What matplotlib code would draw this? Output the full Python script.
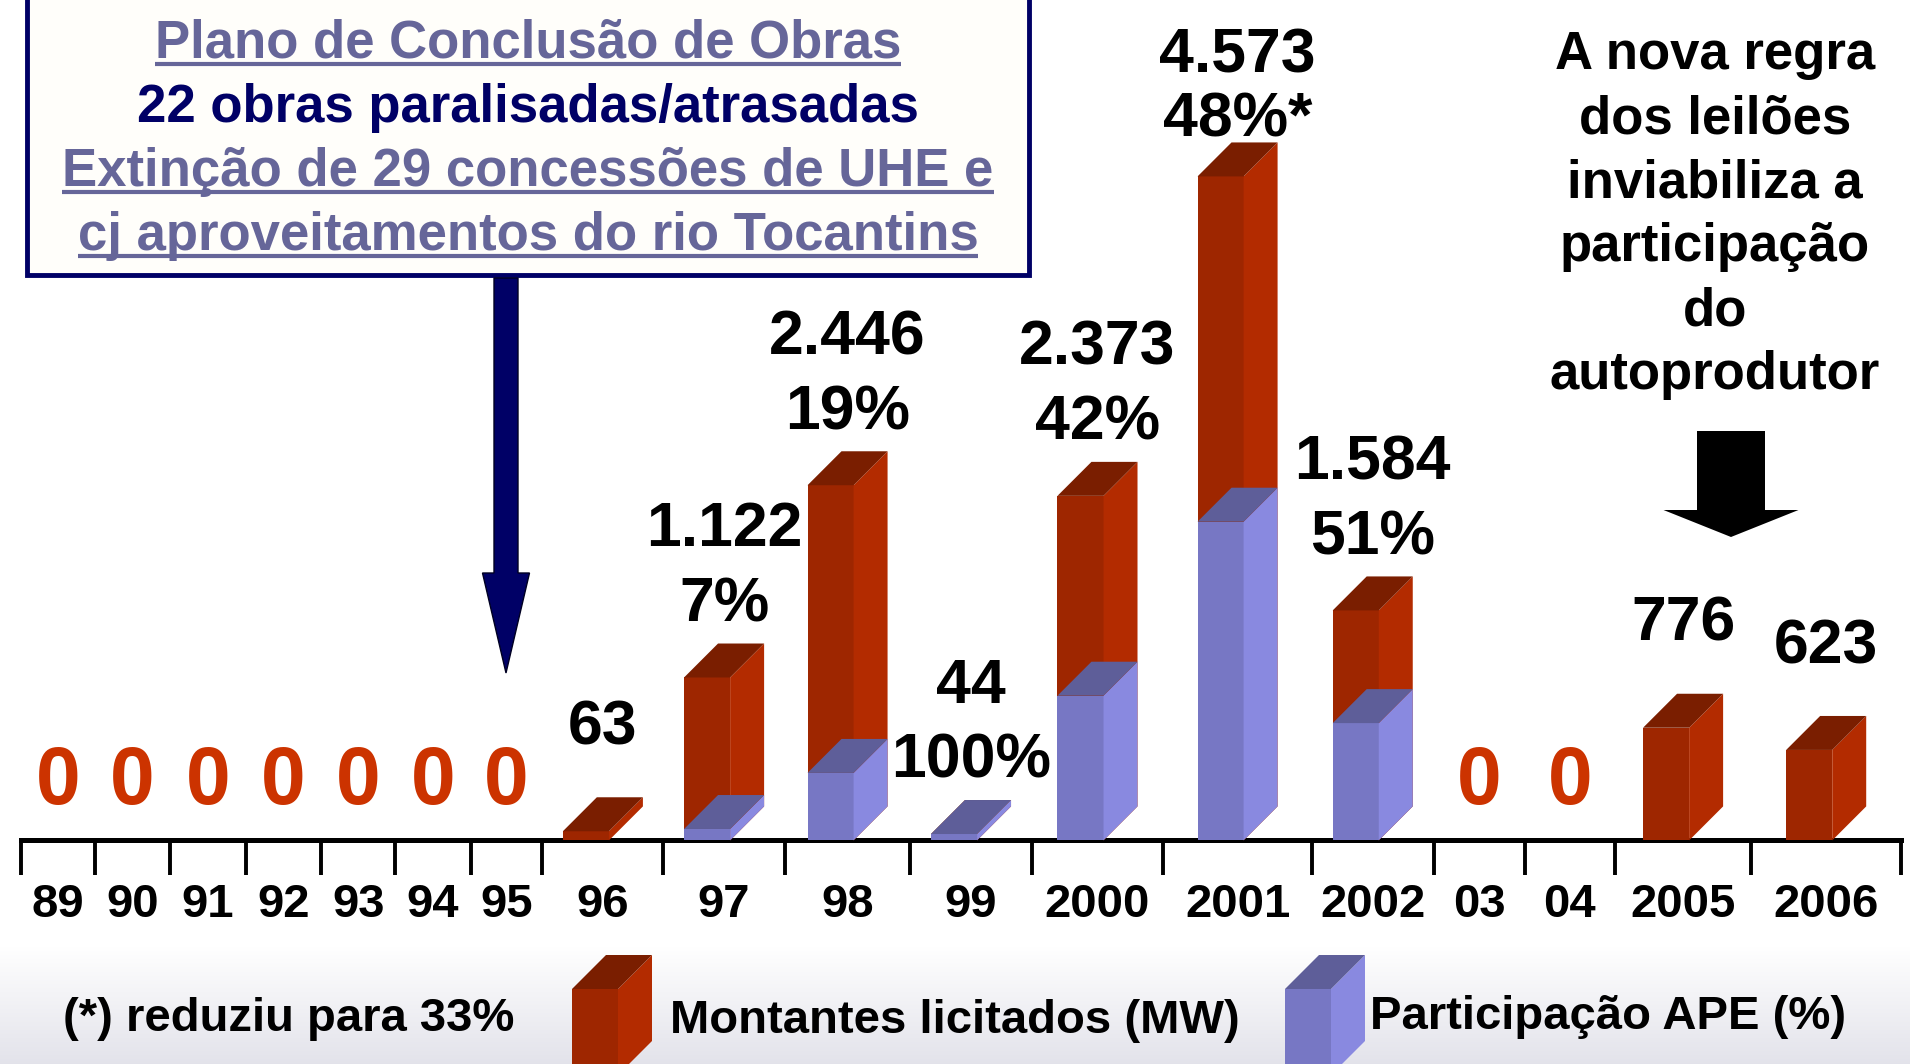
import numpy as np
import matplotlib
matplotlib.use('Agg')
import matplotlib.pyplot as plt
from matplotlib.patches import Polygon, Rectangle, FancyArrow

plt.rcParams['font.family'] = ['Liberation Sans', 'DejaVu Sans']
plt.rcParams['font.weight'] = 'bold'

# dados
years = ['89', '90', '91', '92', '93', '94', '95', '96', '97', '98', '99',
         '2000', '2001', '2002', '03', '04', '2005', '2006']
mw = [0, 0, 0, 0, 0, 0, 0, 63, 1122, 2446, 44, 2373, 4573, 1584, 0, 0, 776, 623]
ape_pct = [0, 0, 0, 0, 0, 0, 0, 0, 7, 19, 100, 42, 48, 51, 0, 0, 0, 0]
footnote_year = '2001'
footnote = '(*) reduziu para 33%'
legend_mw = 'Montantes licitados (MW)'
legend_ape = 'Participação APE (%)'
box_lines = ['Plano de Conclusão de Obras',
             '22 obras paralisadas/atrasadas',
             'Extinção de 29 concessões de UHE e',
             'cj aproveitamentos do rio Tocantins']
right_lines = ['A nova regra', 'dos leilões', 'inviabiliza a',
               'participação', 'do', 'autoprodutor']

# layout (largura de cada coluna do eixo, coluna estreita = 1)
slot_w = [0.98, 1, 1, 1, 0.98, 1, 0.95,
          1.6, 1.61, 1.66, 1.61, 1.74, 1.97, 1.61, 1.21, 1.19, 1.81, 1.98]
bar_w = 0.61
depth_x = 0.45
depth_y = 234

red = ('#9E2600', '#B32B00', '#7A1E00')
blue = ('#7777C4', '#8989E0', '#5E5E99')
zero_color = '#CC3300'
navy = '#000066'
slate = '#666699'


def box3d(a, x0, y0, y1, w, dx, dy, cols, z=3):
    a.bar(x0, y1 - y0, bottom=y0, width=w, align='edge', color=cols[0],
          lw=0, zorder=z)
    a.add_patch(Polygon([(x0 + w, y0), (x0 + w + dx, y0 + dy),
                         (x0 + w + dx, y1 + dy), (x0 + w, y1)],
                        closed=True, fc=cols[1], lw=0, zorder=z))
    a.add_patch(Polygon([(x0, y1), (x0 + w, y1), (x0 + w + dx, y1 + dy),
                         (x0 + dx, y1 + dy)],
                        closed=True, fc=cols[2], lw=0, zorder=z))


fig = plt.figure(figsize=(19.1, 10.64), dpi=100)

# fundo com degrade embaixo
bg = fig.add_axes([0, 0, 1, 1])
rows = np.linspace(0, 1, 1064)
shade = np.clip((rows - 0.89) / 0.11, 0, 1)
grad = np.ones((1064, 1, 3))
grad[:, 0, 0] = 1 - shade * (1 - 0.89)
grad[:, 0, 1] = 1 - shade * (1 - 0.89)
grad[:, 0, 2] = 1 - shade * (1 - 0.92)
bg.imshow(grad, aspect='auto', extent=(0, 1, 0, 1), origin='upper')
bg.axis('off')

# grafico
ax = fig.add_axes([0, 0, 1, 1])
ax.patch.set_alpha(0)
ax.set_xlim(-0.274, 25.02)
ax.set_ylim(-1540, 5788)

edges = np.concatenate([[0], np.cumsum(slot_w)])
centers = (edges[:-1] + edges[1:]) / 2

for s in ['left', 'right', 'top']:
    ax.spines[s].set_visible(False)
ax.spines['bottom'].set_position(('data', 0))
ax.spines['bottom'].set_bounds(edges[0], edges[-1])
ax.spines['bottom'].set_linewidth(3.6)
ax.set_yticks([])
ax.set_xticks(edges)
ax.set_xticklabels([])
ax.set_xticks(centers, minor=True)
ax.set_xticklabels(years, minor=True)
ax.tick_params(which='major', direction='out', length=25, width=2.8)
ax.tick_params(which='minor', length=0, pad=31, labelsize=34)

# espaco (pt) entre o topo de cada barra e o topo da figura
pt_per_mw = (fig.get_figheight() * 72) / (ax.get_ylim()[1] - ax.get_ylim()[0])

for i in range(len(years)):
    xc = centers[i]
    v = mw[i]
    p = ape_pct[i]
    if v == 0:
        ax.annotate('0', (xc, 0), xytext=(0, 26), textcoords='offset points',
                    ha='center', va='baseline', fontsize=58, color=zero_color)
        continue
    x0 = xc - (bar_w + depth_x) / 2
    box3d(ax, x0, 0, v, bar_w, depth_x, depth_y, red)
    label = f'{v:,}'.replace(',', '.')
    top = v + depth_y
    room = (ax.get_ylim()[1] - top) * pt_per_mw
    if p > 0:
        box3d(ax, x0, 0, v * p / 100, bar_w, depth_x, depth_y, blue)
        pct = f'{p}%' + ('*' if years[i] == footnote_year else '')
        lift, gap = (16, 54) if room > 120 else (4, 46)
        ax.annotate(pct, (xc, top), xytext=(0, lift), textcoords='offset points',
                    ha='center', va='baseline', fontsize=45)
        ax.annotate(label, (xc, top), xytext=(0, lift + gap),
                    textcoords='offset points',
                    ha='center', va='baseline', fontsize=45)
    else:
        ax.annotate(label, (xc, top), xytext=(0, 38), textcoords='offset points',
                    ha='center', va='baseline', fontsize=45)

# anotacoes em pixels
ov = fig.add_axes([0, 0, 1, 1])
ov.set_xlim(0, 1910)
ov.set_ylim(1064, 0)
ov.axis('off')
ov.patch.set_alpha(0)

ov.add_patch(Rectangle((27, -20), 1002, 295, fc='#FFFEFA', ec=navy, lw=3.5))
renderer = fig.canvas.get_renderer()
box_colors = [slate, navy, slate, slate]
box_under = [True, False, True, True]
for k, line in enumerate(box_lines):
    base = 58 + 64 * k
    t = ov.text(528, base, line, ha='center', va='baseline', fontsize=38,
                color=box_colors[k])
    if box_under[k]:
        bb = t.get_window_extent(renderer)
        ov.plot([bb.x0, bb.x1], [base + 6, base + 6], color=box_colors[k],
                lw=3, solid_capstyle='butt')

ov.add_patch(FancyArrow(506, 278, 0, 395, width=24, head_width=47,
                        head_length=100, length_includes_head=True,
                        fc=navy, ec='#000022', lw=1))

for k, line in enumerate(right_lines):
    ov.text(1715, 69 + 64 * k, line, ha='center', va='baseline', fontsize=38)

ov.add_patch(FancyArrow(1731, 431, 0, 106, width=68, head_width=135,
                        head_length=27, length_includes_head=True,
                        fc='black', ec='black', lw=0))

# legenda
ov.text(289, 1031, footnote, ha='center', va='baseline', fontsize=34)
box3d(ov, 572, 1075, 989, 46, 34, -34, red)
ov.text(670, 1033, legend_mw, ha='left', va='baseline', fontsize=34)
box3d(ov, 1285, 1075, 989, 46, 34, -34, blue)
ov.text(1370, 1029, legend_ape, ha='left', va='baseline', fontsize=34)

fig.savefig('out.png', dpi=100)
